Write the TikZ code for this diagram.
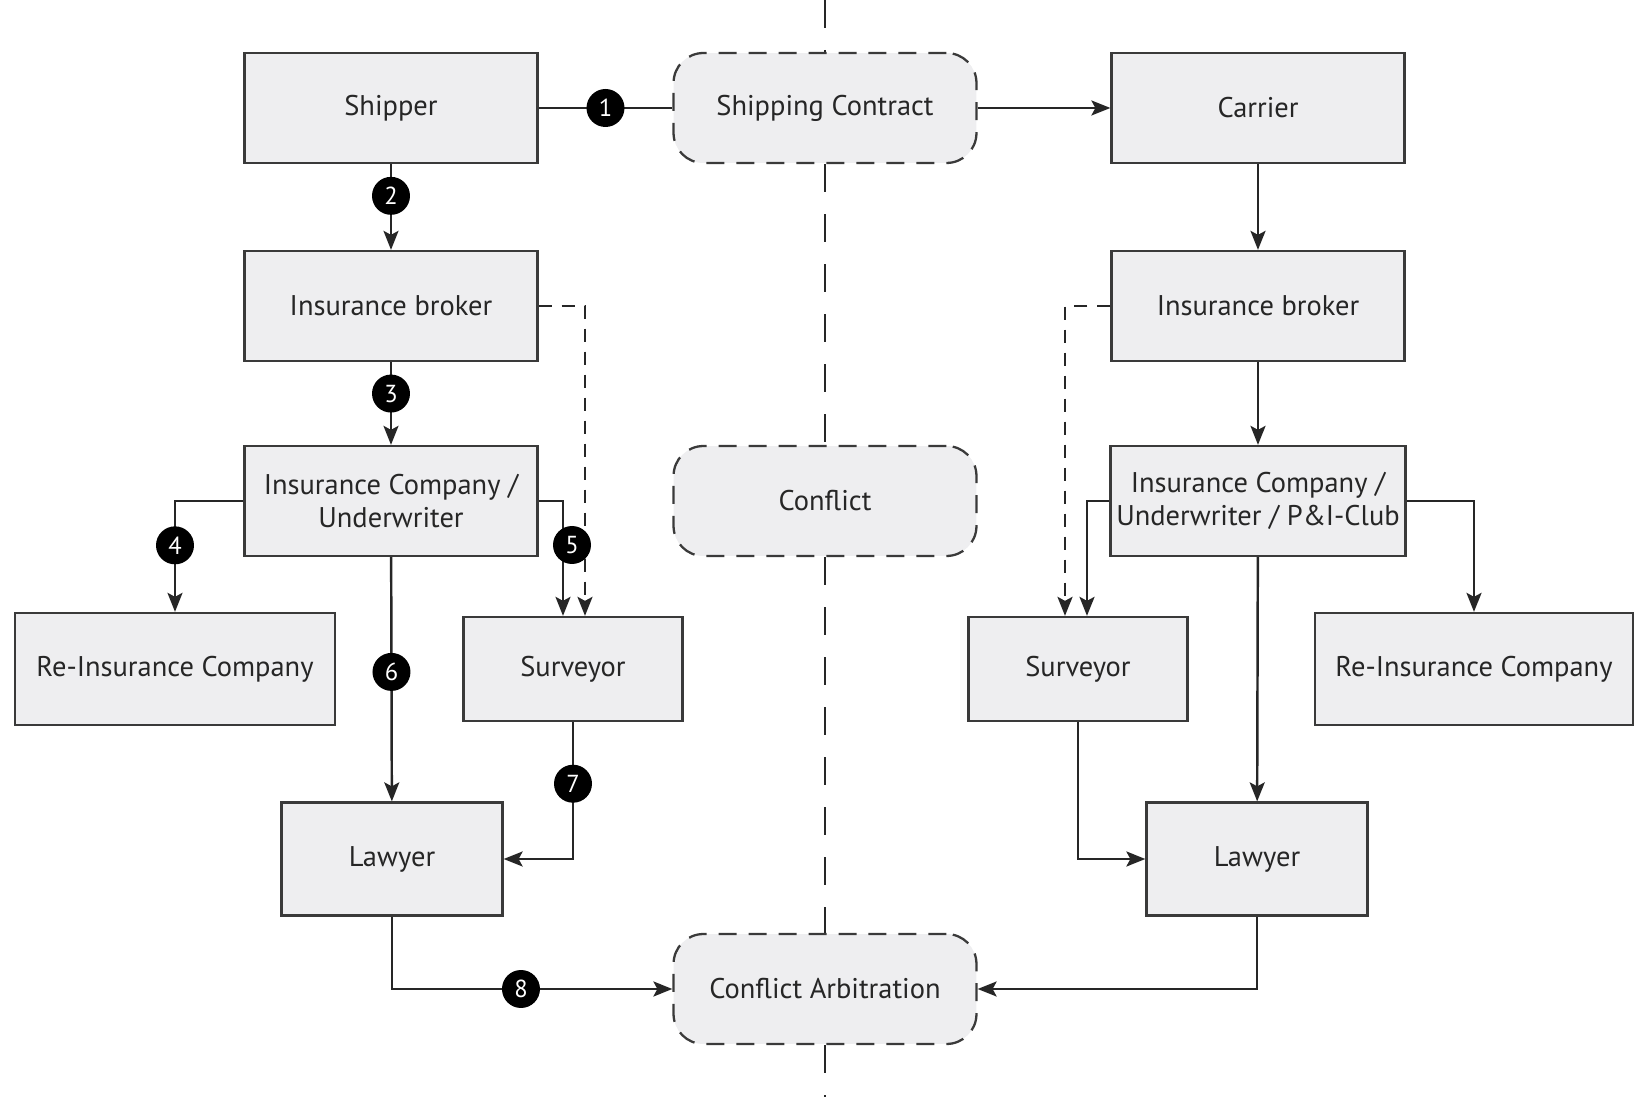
\documentclass[tikz,border=0pt]{standalone}
\usepackage{fontspec}
\setmainfont{PT Sans}
\usepackage{tikz}
\usepackage{xcolor}
\usetikzlibrary{shapes,arrows.meta,positioning,calc}

\definecolor{boxfill}{HTML}{EEEEF0}
\definecolor{boxline}{HTML}{3A3A3A}

\begin{document}
\begin{tikzpicture}[x=0.02cm, y=-0.02cm,
    font=\fontsize{16.2}{19}\selectfont,
    box/.style={draw=boxline, fill=boxfill, line width=1.3pt, text=black!85, align=center},
    wide/.style={minimum width=5.86cm, minimum height=2.2cm},
    reins/.style={minimum width=6.4cm, minimum height=2.24cm},
    narrow/.style={minimum width=4.38cm, minimum height=2.08cm},
    law/.style={minimum width=4.42cm, minimum height=2.26cm},
    event/.style={draw=boxline, fill=boxfill, line width=1.3pt, rounded corners=0.6cm,
        dash pattern=on 0.36cm off 0.24cm, text=black!85,
        minimum width=6.06cm, minimum height=2.2cm},
    num/.style={circle, fill=black, text=white, inner sep=0pt, minimum size=0.76cm,
        font=\fontsize{14}{14}\selectfont},
    link/.style={draw=black!85, line width=1.4pt},
    arr/.style={link, -{Stealth[length=0.38cm, width=0.3cm, inset=0.08cm]}},
    hint/.style={arr, dash pattern=on 0.26cm off 0.2cm}]

    \useasboundingbox (0,0) rectangle (1634,1097);

    % Middle column
    \node[event] (contract) at (825,108) {Shipping Contract};
    \node[event] (conflict) at (825,501) {Conflict};
    \node[event] (arbit) at (825,989) {Conflict Arbitration};
    \coordinate (top) at (825,0);
    \coordinate (bot) at (825,1097);

    % Shipper side
    \node[box, wide] (shipper) at (391,108) {Shipper};
    \node[box, wide] (brokerL) at (391,306) {Insurance broker};
    \node[box, wide] (companyL) at (391,501) {Insurance Company /\\Underwriter};
    \node[box, reins] (reinsL) at (175,669) {Re-Insurance Company};
    \node[box, narrow] (surveyorL) at (573,669) {Surveyor};
    \node[box, law] (lawyerL) at (392,859) {Lawyer};

    % Carrier side
    \node[box, wide] (carrier) at (1258,108) {Carrier};
    \node[box, wide] (brokerR) at (1258,306) {Insurance broker};
    \node[box, wide] (companyR) at (1258,501) {Insurance Company /\\Underwriter / P\&I-Club};
    \node[box, narrow] (surveyorR) at (1078,669) {Surveyor};
    \node[box, reins, minimum width=6.36cm] (reinsR) at (1474,669) {Re-Insurance Company};
    \node[box, law] (lawyerR) at (1257,859) {Lawyer};

    % Dividing line
    \draw[link, dash pattern=on 0.56cm off 0.44cm] (top) -- (contract.north);
    \draw[link, dash pattern=on 0.56cm off 0.44cm] (contract.south) -- (conflict.north);
    \draw[link, dash pattern=on 0.56cm off 0.44cm] (conflict.south) -- (arbit.north);
    \draw[link, dash pattern=on 0.56cm off 0.44cm] (arbit.south) -- (bot);

    % Shipper flows
    \draw[link] (shipper) -- node[num] {1} (contract);
    \draw[arr] (contract) -- (carrier);
    \draw[arr] (shipper) -- node[num, pos=0.37] {2} (brokerL);
    \draw[arr] (brokerL) -- node[num, pos=0.38] {3} (companyL);
    \draw[arr] (companyL.west) -| node[num, pos=0.70] {4} (reinsL.north);
    \draw[arr] (companyL.east) -| ($(surveyorL.north)+(-10,0)$);
    \draw[hint] (brokerL.east) -| ($(surveyorL.north)+(12,0)$);
    \node[num] (n5) at (572,545) {5};
    \draw[arr] (companyL) -- node[num, pos=0.47] {6} (lawyerL);
    \draw[arr] (surveyorL.south) |- node[num, pos=0.225] {7} (lawyerL.east);
    \draw[arr] (lawyerL.south) |- node[num, pos=0.73] {8} (arbit.west);

    % Carrier flows
    \draw[arr] (carrier) -- (brokerR);
    \draw[arr] (brokerR) -- (companyR);
    \draw[hint] (brokerR.west) -| ($(surveyorR.north)+(-13,0)$);
    \draw[arr] (companyR.west) -| ($(surveyorR.north)+(9,0)$);
    \draw[arr] (companyR.east) -| (reinsR.north);
    \draw[arr] (companyR) -- (lawyerR);
    \draw[arr] (surveyorR.south) |- (lawyerR.west);
    \draw[arr] (lawyerR.south) |- (arbit.east);
\end{tikzpicture}
\end{document}
